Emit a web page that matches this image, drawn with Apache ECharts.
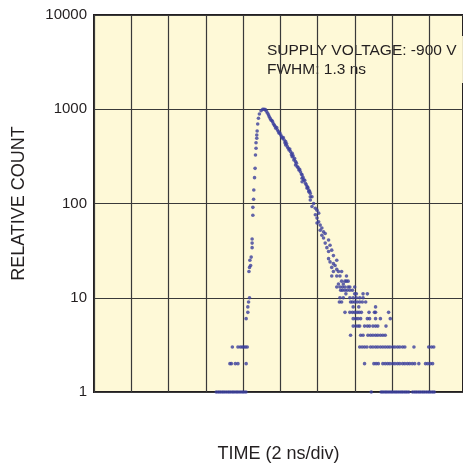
<!DOCTYPE html>
<html>
<head>
<meta charset="utf-8">
<script src="https://cdn.jsdelivr.net/npm/echarts@6/dist/echarts.min.js"></script>
<style>
html,body{margin:0;padding:0;background:#ffffff;}
#chart{width:463px;height:468px;}
</style>
</head>
<body>
<div id="chart"></div>
<script>
// Y-axis tick labels (log scale)
const yTicks = [1, 10, 100, 1000, 10000];
const xTitle = 'TIME (2 ns/div)';
const yTitle = 'RELATIVE COUNT';
const noteLines = ['SUPPLY VOLTAGE: -900 V', 'FWHM: 1.3 ns'];

// Leading edge: time (ns) and counts
const riseT = [6.56,6.67,6.77,6.88,6.98,7.09,7.20,7.30,7.41,7.51,7.62,7.72,7.83,7.94,8.04,8.15,
  7.29,7.37,7.58,7.72,8.16,
  7.42,7.72,7.85,7.95,8.04,8.13,8.22,
  8.16,8.25,8.25,8.29,8.34,8.31,8.34,8.36,8.40,8.43,8.48,8.48,8.48,8.52,8.52,8.56,8.57,8.61,8.64,8.66,8.69,8.69,8.73,8.73,8.75,8.78,8.82,8.87,8.96,9.05,9.12,9.19];
const riseC = [1,1,1,1,1,1,1,1,1,1,1,1,1,1,1,1,
  2,2,2,2,2,
  3,3,3,3,3,3,3,
  6,7,8,9,10,19,21,25,22,27,34,38,42,75,91,111,139,188,236,327,385,441,492,533,588,698,802,891,966,1000,1000,990];

// Decay (upper part of the band)
const decayT = [9.25,9.31,9.36,9.40,9.45,9.49,9.54,9.58,9.62,9.67,9.71,9.75,9.80,9.84,9.89,9.93,9.97,10.02,10.06,10.11,10.15,10.20,10.24,10.28,10.28,10.33,10.37,10.42,10.46,10.50,10.54,10.59,10.63,10.63,10.68,10.72,10.76,10.81,10.81,10.86,10.90,10.95,10.99,11.03,11.07,11.12,11.16,11.16,11.21,11.25,11.30,11.34,11.38,11.43,11.47,11.52,11.56,11.60,11.60];
const decayC = [950,906,870,834,800,769,760,738,700,681,660,628,640,603,580,556,560,533,510,492,500,472,440,453,418,430,401,385,370,378,355,330,341,314,320,290,300,278,256,268,246,240,227,230,217,205,201,185,190,178,176,164,158,151,148,139,135,128,118];

// Decay (lower part of the band)
const decay2T = [11.16,11.43,11.52,11.69,11.60,11.78,11.69,11.87,11.96,12.05,11.87,11.96,12.05,11.96,12.13,12.22,12.13,12.31,12.40,12.22,12.31,12.58,12.40,12.66,12.49,12.75,12.58,12.84,12.58,13.02,12.66,12.84,12.93,12.75,13.02,12.84,13.11,13.28,12.75,13.02,13.19,13.54,13.46,13.63];
const decay2C = [170,145,133,118,109,100,93,89,85,79,76,70,64,62,59,55,52,50,48,46,43,41,38,36,34,32,31,28,26,25,24,23,22,21,20,19,19,19,17,17,17,17,15,15];

// Tail: times (ns) for each discrete count level
const tail15 = [13.28,13.54];
const tail14 = [13.11,13.37];
const tail13 = [13.02,13.19,13.33,13.46,13.63,13.72,13.98];
const tail12 = [13.23,13.33,13.46,13.58,13.72,13.86];
const tail11 = [13.51,13.98,14.07,14.43,14.66];
const tail10 = [13.19,13.37,13.72,13.90,14.07,14.25,14.43];
const tail9 = [13.16,13.28,13.76,13.86,13.98,14.11,14.25,14.39,14.57];
const tail8 = [13.90,14.20,15.10];
const tail7 = [13.46,13.72,13.86,13.98,14.11,14.22,14.34,14.75,15.04,15.10,15.80];
const tail6 = [13.90,14.04,14.16,14.30,14.66,14.78,15.10,15.36,15.89];
const tail5 = [13.90,14.04,14.16,14.25,14.51,14.66,14.78,14.96,15.10,15.22,15.66];
const tail4 = [13.76,14.30,14.43,14.69,14.83,14.96,15.10,15.22,15.36,15.49,15.62];
const tail3 = [14.25,14.38,14.51,14.64,14.83,14.96,15.10,15.22,15.36,15.49,15.62,15.75,15.87,16.02,16.14,16.28,16.40,16.55,16.67,17.16,17.95,18.10,18.22];
const tail2 = [14.51,15.01,15.13,15.25,15.49,15.62,15.75,15.87,16.02,16.14,16.28,16.40,16.55,16.67,16.81,16.93,17.07,17.20,17.42,17.78,17.90,18.04,18.16];
const tail1 = [14.87,15.40,15.50,15.61,15.71,15.82,15.93,16.03,16.14,16.24,16.35,16.46,16.56,16.67,16.77,16.88,17.09,17.20,17.30,17.41,17.51,17.62,17.72,17.83,17.94,18.04,18.15,18.25];

const tailLevels = [
  [15, tail15],[14, tail14],[13, tail13],[12, tail12],[11, tail11],[10, tail10],[9, tail9],
  [8, tail8],[7, tail7],[6, tail6],[5, tail5],[4, tail4],[3, tail3],[2, tail2],[1, tail1]
];

const points = [];
riseT.forEach((t, i) => points.push([t, riseC[i]]));
decayT.forEach((t, i) => points.push([t, decayC[i]]));
decay2T.forEach((t, i) => points.push([t, decay2C[i]]));
tailLevels.forEach(([c, ts]) => ts.forEach(t => points.push([t, c])));

const FONT = "'Liberation Sans', Arial, Helvetica, sans-serif";
const INK = '#231f20';
const BG = '#fef9d7';

const chart = echarts.init(document.getElementById('chart'), null, {renderer: 'canvas'});
chart.setOption({
  backgroundColor: '#ffffff',
  animation: false,
  grid: {
    left: 94, top: 15, right: -5, bottom: 76,
    show: true, backgroundColor: BG, borderColor: INK, borderWidth: 2
  },
  xAxis: {
    type: 'value', min: 0, max: 19.79, interval: 2,
    axisLine: {show: false}, axisTick: {show: false}, axisLabel: {show: false},
    splitLine: {show: true, lineStyle: {color: '#3a3a3a', width: 1.2}},
    name: xTitle, nameLocation: 'middle', nameGap: 53,
    nameTextStyle: {fontFamily: FONT, fontSize: 18, color: INK}
  },
  yAxis: {
    type: 'log', logBase: 10, min: 1, max: 10000,
    axisLine: {show: false}, axisTick: {show: false},
    axisLabel: {
      show: true, margin: 7, fontFamily: FONT, fontSize: 15, color: INK,
      showMinLabel: true, showMaxLabel: true,
      formatter: v => {
        const r = Math.round(v);
        return yTicks.indexOf(r) >= 0 ? String(r) : '';
      }
    },
    splitLine: {show: true, lineStyle: {color: '#3a3a3a', width: 1.2}},
    minorSplitLine: {show: false},
    name: yTitle, nameLocation: 'middle', nameGap: 66, nameRotate: 90,
    nameTextStyle: {fontFamily: FONT, fontSize: 18, color: INK}
  },
  graphic: [{
    type: 'group', z: 100,
    children: [
      {type: 'rect', shape: {x: 262, y: 36, width: 201, height: 47}, style: {fill: BG}},
      {type: 'text', x: 267, y: 41.5, style: {
        text: noteLines.join('\n'), font: '15.5px ' + FONT, fill: INK,
        lineHeight: 18.6, textVerticalAlign: 'top'
      }}
    ]
  }],
  series: [{
    type: 'scatter',
    data: points,
    symbol: 'circle',
    symbolSize: 3.6,
    itemStyle: {color: '#3b3f9c'},
    clip: false,
    z: 5
  }]
});
</script>
</body>
</html>
